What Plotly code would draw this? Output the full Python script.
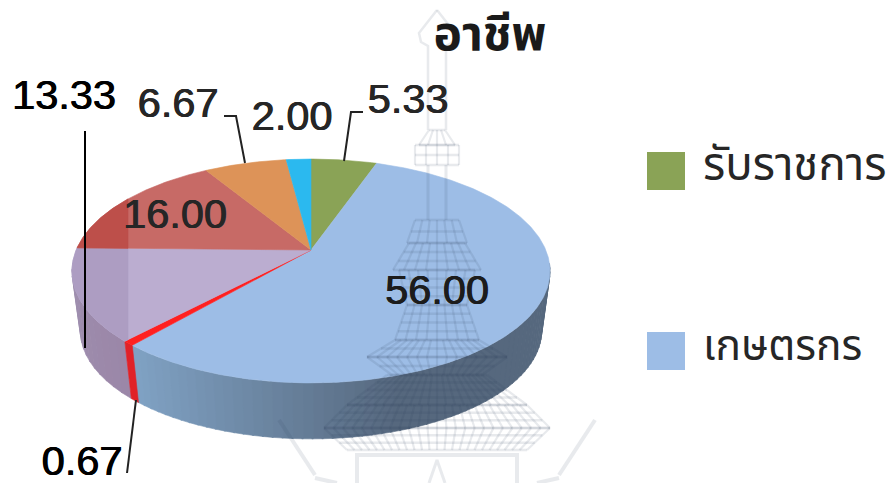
import math
import plotly.graph_objects as go

title = "อาชีพ"
categories = ["รับราชการ", "เกษตรกร", "ค้าขาย", "รับจ้าง", "นักเรียน", "ธุรกิจส่วนตัว", "อื่นๆ"]
values = [5.33, 56.00, 0.67, 13.33, 16.00, 6.67, 2.00]
top_colors = ["#8aa356", "#9dbde6", "#ff2020", "#bbadd0", "#c76a66", "#dd9358", "#2bb9ef"]
dark_colors = {3: "#ad9dc2", 4: "#bd4f4a"}
legend_items = [0, 1]

W, H = 889, 483
CX, CY, A, B, K = 311, 250, 234.8, 108, 0.1875
SCALE, DROP = 0.965, 60.6
BAND_X = 128
FONT = "Liberation Sans, Arial, sans-serif"
THAI = "Noto Sans Thai, Noto Sans, DejaVu Sans, Liberation Sans, sans-serif"


def top_pt(t):
    r = math.radians(t)
    w = 1 + K * math.cos(r)
    return CX + A * math.sin(r) / w, CY - B * math.cos(r) / w


def bot_pt(t):
    x, y = top_pt(t)
    return CX + (x - CX) * SCALE, CY + (y - CY) * SCALE + DROP


def arc(fn, a, b, step=0.5):
    n = max(2, int(abs(b - a) / step) + 1)
    return [fn(a + (b - a) * i / (n - 1)) for i in range(n)]


def clip_left(poly, xmax):
    out = []
    for i, p in enumerate(poly):
        q = poly[(i + 1) % len(poly)]
        if p[0] <= xmax:
            out.append(p)
        if (p[0] <= xmax) != (q[0] <= xmax):
            f = (xmax - p[0]) / (q[0] - p[0])
            out.append((xmax, p[1] + f * (q[1] - p[1])))
    return out


fig = go.Figure()


def poly(pts, color):
    xs = [p[0] for p in pts] + [pts[0][0]]
    ys = [p[1] for p in pts] + [pts[0][1]]
    fig.add_trace(go.Scatter(x=xs, y=ys, mode="lines", fill="toself", fillcolor=color,
                             line=dict(color=color, width=0.6), hoverinfo="skip", showlegend=False))


def line(pts, color="#111111", width=2):
    fig.add_trace(go.Scatter(x=[p[0] for p in pts], y=[p[1] for p in pts], mode="lines",
                             line=dict(color=color, width=width), hoverinfo="skip", showlegend=False))


def lerp(c1, c2, f):
    f = min(1, max(0, f))
    return "rgb(%d,%d,%d)" % tuple(round(c1[i] + (c2[i] - c1[i]) * f) for i in range(3))


# slice boundaries, clockwise from 12 o'clock
edges = [0]
for v in values:
    edges.append(edges[-1] + v * 3.6)

# side wall
S_R, S_L = 97, 263
blue_b = edges[2]
n = 60
for i in range(n):
    a = S_R + (blue_b - S_R) * i / n
    b = S_R + (blue_b - S_R) * (i + 1) / n + 0.3
    xm = top_pt(a)[0]
    col = lerp((0x56, 0x68, 0x7e), (0x80, 0xa2, 0xc4), (405 - xm) / (405 - 135))
    poly(arc(top_pt, a, b) + arc(bot_pt, b, a), col)
m = 12
for i in range(m):
    a = edges[3] + (S_L - edges[3]) * i / m
    b = edges[3] + (S_L - edges[3]) * (i + 1) / m + 0.3
    poly(arc(top_pt, a, b) + arc(bot_pt, b, a), lerp((0x9b, 0x87, 0xa8), (0x9f, 0x90, 0xb0), i / m))
poly(arc(top_pt, edges[2], edges[3]) + arc(bot_pt, edges[3], edges[2]), "#e02228")

# top face
for i, c in enumerate(top_colors):
    pts = [(CX, CY)] + arc(top_pt, edges[i], edges[i + 1])
    poly(pts, c)
    if i in dark_colors:
        part = clip_left(pts, BAND_X)
        if part:
            poly(part, dark_colors[i])

# faint watermark emblem (background art)
WM = "rgba(45,65,95,0.11)"
cx = 437
for s in (-1, 1):
    line([(cx, 10), (cx + s * 18, 33), (cx + s * 16, 42), (cx + s * 9, 46), (cx + s * 9, 130)], WM, 2.5)
    line([(cx + s * 9, 165), (cx + s * 9, 220)], WM, 3)
    line([(cx + s * 122, 475), (cx + s * 158, 420)], WM, 4)
    line([(cx + s * 122, 478), (cx + s * 100, 483)], WM, 4)
tiers = [(130, 145, 8, 18, 1), (145, 165, 22, 22, 2), (220, 243, 22, 30, 2), (243, 270, 28, 44, 3),
         (270, 305, 38, 30, 4), (305, 340, 30, 42, 4), (340, 357, 42, 70, 2), (357, 375, 70, 45, 2),
         (375, 405, 50, 90, 4), (405, 428, 90, 113, 3), (428, 450, 113, 90, 3)]
for y0, y1, w0, w1, rows in tiers:
    for r in range(rows + 1):
        y = y0 + (y1 - y0) * r / rows
        w = w0 + (w1 - w0) * r / rows
        line([(cx - w, y), (cx + w, y)], WM, 2.5)
    cols = max(2, int(max(w0, w1) / 9))
    for c in range(-cols, cols + 1):
        line([(cx + c / cols * w0, y0), (cx + c / cols * w1, y1)], WM, 2.2)
line([(cx - 80, 483), (cx - 80, 455), (cx + 80, 455), (cx + 80, 483)], WM, 4)
line([(cx - 8, 483), (cx, 460), (cx + 8, 483)], WM, 3)

# leader lines
line([(85, 131), (85, 348)], "#000000", 2)
line([(224, 116), (236, 116), (245, 163)], "#222222", 2)
line([(363, 112), (351, 112), (344, 161)], "#222222", 2)
line([(136, 400), (127, 473)], "#222222", 2)

# legend swatches
for row, i in enumerate(legend_items):
    fig.add_trace(go.Scatter(x=[666], y=[171 + row * 180], mode="markers",
                             marker=dict(symbol="square", size=38, color=top_colors[i], line=dict(width=0)),
                             hoverinfo="skip", showlegend=False))


def label(x, y, text, size, color="#262626", family=FONT, pos="middle center", bold=False, shadow=None):
    f = dict(size=size, color=color, family=family)
    if shadow:
        f["shadow"] = shadow
    fig.add_trace(go.Scatter(x=[x], y=[y], mode="text", text=[f"<b>{text}</b>" if bold else text],
                             textposition=pos, textfont=f, cliponaxis=False,
                             hoverinfo="skip", showlegend=False))


label_pos = [(408, 103, "#262626"), (437, 294, "#1c1c1c"), (82, 465, "#000000"), (64, 99, "#000000"),
             (175, 218, "#262626"), (178, 107, "#262626"), (292, 120, "#262626")]
for v, (x, y, c) in zip(values, label_pos):
    label(x, y, f"{v:.2f}", 41.5, c, shadow=f"0.6px 0 0 {c}, -0.3px 0 0 {c}")
label(490, 38, title, 48, "#1a1a1a", THAI, bold=True)
label(703, 169, categories[legend_items[0]], 45.5, "#262626", THAI, "middle right")
label(703, 349, categories[legend_items[1]], 42.5, "#262626", THAI, "middle right")

fig.update_layout(
    width=W, height=H, margin=dict(l=0, r=0, t=0, b=0), showlegend=False,
    paper_bgcolor="white", plot_bgcolor="white",
    xaxis=dict(range=[0, W], visible=False, fixedrange=True),
    yaxis=dict(range=[H, 0], visible=False, fixedrange=True),
)
fig.write_html("out.html", config=dict(displayModeBar=False),
               post_script="document.body.style.margin='0';document.body.style.overflow='hidden';")
